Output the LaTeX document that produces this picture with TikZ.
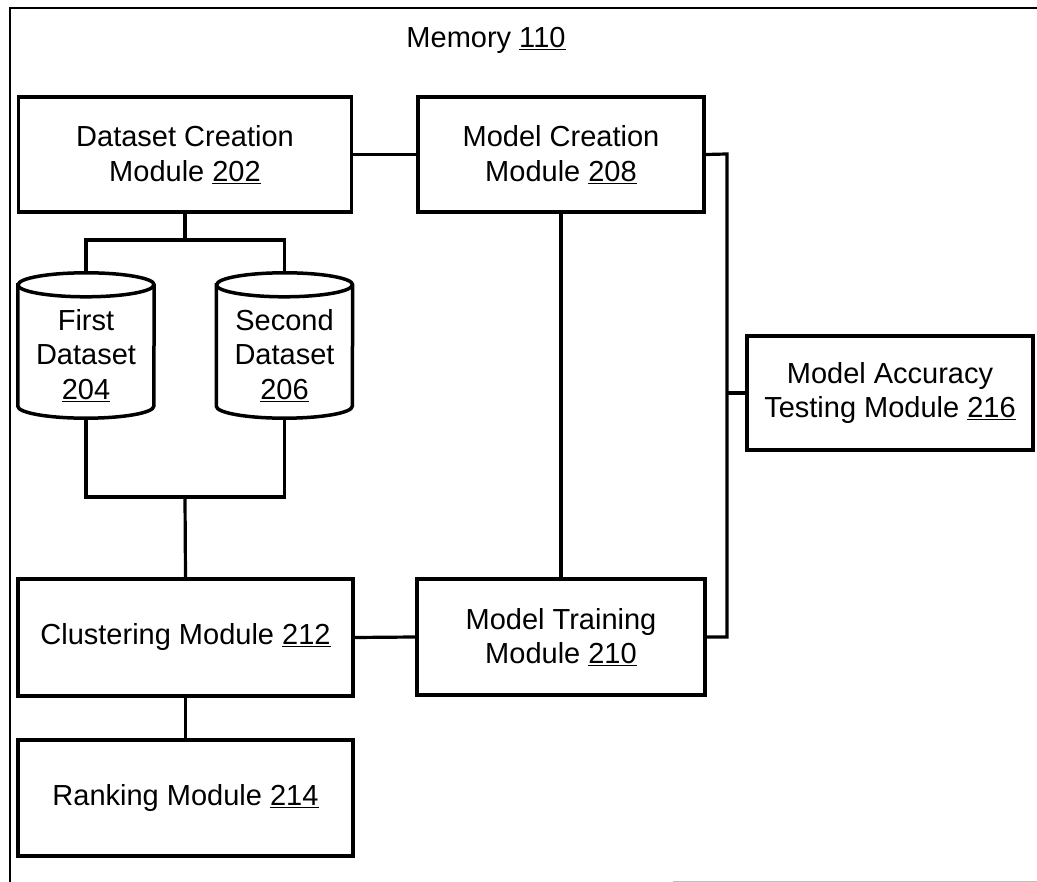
\documentclass[tikz,border=0pt]{standalone}
\usepackage{fontspec}
\setmainfont{Liberation Sans}
\usetikzlibrary{calc}
\newcommand\drawdb[1]{%
  \draw[dbline] ([yshift=-12pt]#1.north west) -- ([yshift=12pt]#1.south west)
    arc[start angle=180, end angle=360, x radius=68pt, y radius=12pt]
    -- ([yshift=-12pt]#1.north east)
    arc[start angle=0, end angle=180, x radius=68pt, y radius=12pt] -- cycle;
  \draw[dbline] ([yshift=-12pt]#1.north west)
    arc[start angle=180, end angle=360, x radius=68pt, y radius=12pt];
}
\begin{document}
\begin{tikzpicture}[x=1pt, y=-1pt,
  every node/.style={font=\fontsize{29}{34.5}\selectfont, align=center, inner sep=0pt},
  modbox/.style n args={2}{draw, line width=3.5pt, minimum width=#1, minimum height=#2},
  dbnode/.style={minimum width=136pt, minimum height=145pt},
  dbline/.style={line width=3.5pt},
  conn/.style={line width=3.2pt, line join=miter}]
\useasboundingbox (0,0) rectangle (1037,882);

% memory frame
\draw[line width=2.8pt] (10,882) -- (10,8) -- (1037,8);
\draw[black!25, line width=1pt] (673,881) -- (1037,881);
\node (mem) at (486,40) {Memory \underline{110}};

% modules
\node[modbox={333pt}{115pt}] (d202) at (185,154.5) {Dataset Creation\\Module \underline{202}};
\node[modbox={286pt}{115pt}] (d208) at (561,154.5) {Model Creation\\Module \underline{208}};
\node[modbox={335pt}{117pt}] (d212) at (185.5,637.5) {Clustering Module \underline{212}};
\node[modbox={288pt}{116pt}] (d210) at (561,637) {Model Training\\Module \underline{210}};
\node[modbox={335pt}{116pt}] (d214) at (185.5,798) {Ranking Module \underline{214}};
\node[modbox={286pt}{114pt}] (d216) at (890,393) {Model Accuracy\\Testing Module \underline{216}};

% datasets
\node[dbnode] (d204) at (86,345.5) {};
\node[dbnode] (d206) at (284.5,345.5) {};
\drawdb{d204}
\drawdb{d206}
\node (t204) at ([yshift=-10pt]d204.center) {First\\Dataset\\\underline{204}};
\node (t206) at ([yshift=-10pt]d206.center) {Second\\Dataset\\\underline{206}};

% connectors
\coordinate (splitA) at (185,240);
\coordinate (joinB) at (185,497);
\coordinate (bus) at (727,154);
\draw[conn] (d202.south) -- (splitA);
\draw[conn] (d204.north) |- (splitA) -| (d206.north);
\draw[conn] (d204.south) |- (joinB) -| (d206.south);
\draw[conn] (joinB) -- (d212.north);
\draw[conn] (d202.east) -- (d208.west);
\draw[conn] (d208.south) -- (d210.north);
\draw[conn] (d208.east) -- (bus) |- (d210.east);
\draw[conn] (d216.west) -- (d216.west -| bus);
\draw[conn] (d212.east) -- (d210.west);
\draw[conn] (d212.south) -- (d214.north);
\end{tikzpicture}
\end{document}
